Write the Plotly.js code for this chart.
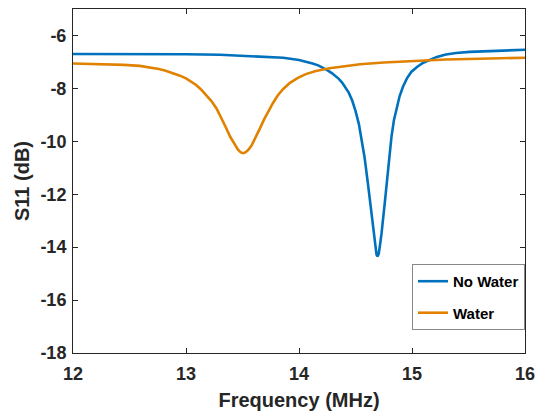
<!DOCTYPE html>
<html>
<head>
<meta charset="utf-8">
<script src="https://cdn.plot.ly/plotly-3.0.1.min.js"></script>
<style>html,body{margin:0;padding:0;background:#fff}#chart{width:536px;height:415px}</style>
</head>
<body>
<div id="chart"></div>
<script>
const freqNoWater = [12.0, 12.5, 13.0, 13.3, 13.56, 13.86, 14.0, 14.06, 14.12, 14.17, 14.21, 14.25, 14.29, 14.32, 14.35, 14.38, 14.41, 14.44, 14.47, 14.50, 14.53, 14.555, 14.58, 14.61, 14.64, 14.66, 14.675, 14.686, 14.695, 14.705, 14.715, 14.73, 14.758, 14.788, 14.818, 14.84, 14.862, 14.89, 14.92, 14.955, 14.995, 15.05, 15.10, 15.16, 15.22, 15.30, 15.39, 15.51, 15.70, 15.85, 16.0];
const s11NoWater = [-6.70, -6.70, -6.71, -6.73, -6.77, -6.84, -6.93, -6.99, -7.06, -7.13, -7.21, -7.31, -7.42, -7.52, -7.63, -7.77, -7.95, -8.16, -8.45, -8.85, -9.35, -9.90, -10.60, -11.60, -12.70, -13.50, -14.00, -14.28, -14.35, -14.25, -13.98, -13.50, -12.37, -10.98, -9.84, -9.20, -8.75, -8.30, -7.94, -7.62, -7.37, -7.17, -7.03, -6.91, -6.81, -6.72, -6.66, -6.62, -6.58, -6.56, -6.54];
const freqWater = [12.0, 12.29, 12.45, 12.59, 12.68, 12.76, 12.82, 12.88, 12.94, 13.0, 13.045, 13.09, 13.135, 13.18, 13.225, 13.27, 13.31, 13.35, 13.39, 13.43, 13.46, 13.485, 13.505, 13.525, 13.55, 13.58, 13.615, 13.65, 13.69, 13.73, 13.77, 13.81, 13.86, 13.92, 13.99, 14.06, 14.15, 14.27, 14.40, 14.54, 14.75, 15.0, 15.3, 15.6, 16.0];
const s11Water = [-7.06, -7.08, -7.11, -7.15, -7.20, -7.27, -7.33, -7.41, -7.51, -7.62, -7.74, -7.87, -8.05, -8.25, -8.48, -8.76, -9.08, -9.45, -9.82, -10.14, -10.32, -10.42, -10.45, -10.42, -10.33, -10.16, -9.88, -9.55, -9.18, -8.85, -8.55, -8.28, -8.02, -7.79, -7.60, -7.46, -7.34, -7.24, -7.16, -7.09, -7.02, -6.96, -6.91, -6.88, -6.84];
const xTicks = [12, 13, 14, 15, 16];
const yTicks = [-18, -16, -14, -12, -10, -8, -6];

const font = {family: '"Liberation Sans", Arial, sans-serif', color: '#262626'};
const data = [
  {x: freqNoWater, y: s11NoWater, name: 'No Water', legendgroup: 'a', type: 'scatter', mode: 'lines',
   line: {color: '#0072BD', width: 2.6, shape: 'linear'}},
  {x: freqWater, y: s11Water, name: 'Water', legendgroup: 'b', type: 'scatter', mode: 'lines',
   line: {color: '#E08200', width: 2.6, shape: 'linear'}}
];
const axisCommon = {showgrid: false, zeroline: false, showline: true, linecolor: '#262626', linewidth: 1,
  ticks: 'inside', ticklen: 5, tickcolor: '#262626', mirror: 'ticks',
  tickfont: Object.assign({}, font, {size: 18, weight: 'bold'})};
const layout = {
  width: 536, height: 415,
  margin: {l: 73, r: 11, t: 9, b: 62},
  paper_bgcolor: '#fff', plot_bgcolor: '#fff',
  font: font,
  showlegend: true,
  legend: {x: 1, xanchor: 'right', y: 0.067, yanchor: 'bottom', bgcolor: '#fff',
    bordercolor: '#888', borderwidth: 1, itemwidth: 30, traceorder: 'grouped', tracegroupgap: 9,
    font: Object.assign({}, font, {size: 15, weight: 'bold', color: '#000'})},
  xaxis: Object.assign({}, axisCommon, {range: [12, 16], tickvals: xTicks, ticktext: xTicks.map(String),
    ticklabelstandoff: 4,
    title: {text: 'Frequency (MHz)', font: Object.assign({}, font, {size: 20, weight: 'bold'}), standoff: 10}}),
  yaxis: Object.assign({}, axisCommon, {range: [-18, -5], tickvals: yTicks, ticktext: yTicks.map(String),
    ticklabelstandoff: 2,
    title: {text: 'S11 (dB)', font: Object.assign({}, font, {size: 20, weight: 'bold'}), standoff: 5}})
};
Plotly.newPlot('chart', data, layout, {displayModeBar: false, staticPlot: true});
</script>
</body>
</html>
